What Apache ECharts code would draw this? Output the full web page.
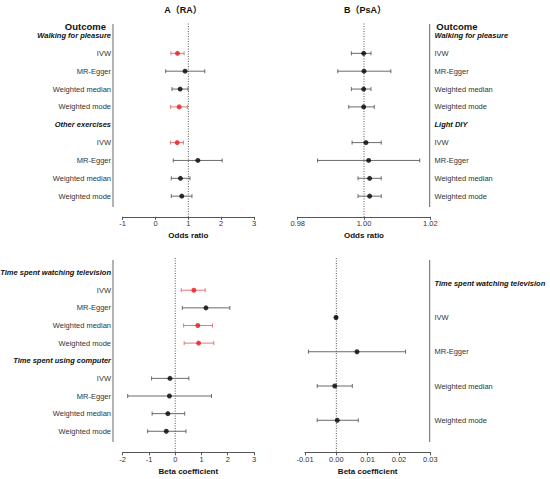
<!DOCTYPE html>
<html lang="en">
<head>
<meta charset="UTF-8">
<title>MR forest plots</title>
<script src="https://cdn.jsdelivr.net/npm/echarts@6/dist/echarts.min.js"></script>
<style>
  html, body { margin: 0; padding: 0; background: #fff; }
  #main { width: 550px; height: 479px; }
</style>
</head>
<body>
<div id="main"></div>
<script>
// MR methods, repeated under every exposure
var methods = ['IVW', 'MR-Egger', 'Weighted median', 'Weighted mode'];

// A (RA), odds ratios
var raHeaders = ['Walking for pleasure', 'Other exercises'];
var raOR   = [0.67, 0.90, 0.75, 0.72, 0.66, 1.29, 0.76, 0.80];
var raLow  = [0.47, 0.31, 0.50, 0.46, 0.45, 0.54, 0.48, 0.48];
var raHigh = [0.87, 1.50, 0.99, 0.97, 0.85, 2.03, 1.05, 1.11];
var raSig  = [1, 0, 0, 1, 1, 0, 0, 0];

// B (PsA), odds ratios
var psaHeaders = ['Walking for pleasure', 'Light DIY'];
var psaOR   = [0.9999, 1.0000, 0.9999, 0.9999, 1.0006, 1.0014, 1.0017, 1.0017];
var psaLow  = [0.9962, 0.9921, 0.9962, 0.9954, 0.9964, 0.9860, 0.9982, 0.9982];
var psaHigh = [1.0021, 1.0081, 1.0021, 1.0031, 1.0052, 1.0168, 1.0052, 1.0052];
var psaSig  = [0, 0, 0, 0, 0, 0, 0, 0];

// A (RA), beta coefficients
var raBetaHeaders = ['Time spent watching television', 'Time spent using computer'];
var raBeta     = [0.71, 1.17, 0.86, 0.89, -0.20, -0.22, -0.28, -0.34];
var raBetaLow  = [0.23, 0.27, 0.32, 0.34, -0.90, -1.81, -0.88, -1.05];
var raBetaHigh = [1.14, 2.08, 1.42, 1.47, 0.52, 1.38, 0.36, 0.41];
var raBetaSig  = [1, 0, 1, 1, 0, 0, 0, 0];

// B (PsA), beta coefficients
var psaBetaHeaders = ['Time spent watching television'];
var psaBeta     = [-0.0001, 0.0066, -0.0005, 0.0003];
var psaBetaLow  = [-0.0004, -0.0089, -0.0061, -0.0061];
var psaBetaHigh = [0.0003, 0.0221, 0.0051, 0.0070];
var psaBetaSig  = [0, 0, 0, 0];

// x axis ticks
var orTicksRA   = { min: -1, max: 3, interval: 1, dec: 0 };
var orTicksPsA  = { min: 0.98, max: 1.02, interval: 0.02, dec: 2 };
var betaTicksRA = { min: -2, max: 3, interval: 1, dec: 0 };
var betaTicksPsA = { min: -0.01, max: 0.03, interval: 0.01, dec: 2 };

var FONT = '"Liberation Sans", Arial, "Noto Sans CJK SC", sans-serif';
var RED = '#e31a1c', RED_BAR = '#e46a6a', BLACK = '#000', GREY_BAR = '#5a5a5a';

// panel layout (pixels)
var panels = [
  { grid: { left: 122.7, top: 23.5, width: 131.3, height: 193.3 }, firstRow: 35.5, step: 17.85,
    lineTop: 24, lineBottom: 207, outcomeY: 26, side: 'left', ticks: orTicksRA, ref: 1, name: 'Odds ratio',
    headers: raHeaders, est: raOR, lo: raLow, hi: raHigh, sig: raSig },
  { grid: { left: 297.7, top: 23.5, width: 132.6, height: 193.3 }, firstRow: 35.5, step: 17.85,
    lineTop: 24, lineBottom: 207, outcomeY: 26, side: 'right', ticks: orTicksPsA, ref: 1, name: 'Odds ratio',
    headers: psaHeaders, est: psaOR, lo: psaLow, hi: psaHigh, sig: psaSig },
  { grid: { left: 122.7, top: 258, width: 131.3, height: 194.3 }, firstRow: 272.6, step: 17.63,
    lineTop: 260, lineBottom: 442, side: 'left', ticks: betaTicksRA, ref: 0, name: 'Beta coefficient',
    headers: raBetaHeaders, est: raBeta, lo: raBetaLow, hi: raBetaHigh, sig: raBetaSig },
  { grid: { left: 305, top: 258, width: 125.3, height: 194.3 }, firstRow: 283.2, step: 34.27,
    lineTop: 260, lineBottom: 442, side: 'right', ticks: betaTicksPsA, ref: 0, name: 'Beta coefficient',
    headers: psaBetaHeaders, est: psaBeta, lo: psaBetaLow, hi: psaBetaHigh, sig: psaBetaSig }
];

function makeRows(headers) {
  var rows = [], r = 0;
  headers.forEach(function (h) {
    rows.push({ row: r++, text: h, kind: 'head' });
    methods.forEach(function (m) { rows.push({ row: r++, text: m, kind: 'method' }); });
  });
  return rows;
}

var option = {
  animation: false,
  grid: [], xAxis: [], yAxis: [], series: [],
  graphic: [
    { type: 'text', x: 183, y: 9.5, style: { text: 'A（RA）', align: 'center', verticalAlign: 'middle',
      fontSize: 9, fontWeight: 'bold', fontFamily: FONT, fill: '#111' } },
    { type: 'text', x: 365, y: 9.5, style: { text: 'B（PsA）', align: 'center', verticalAlign: 'middle',
      fontSize: 9, fontWeight: 'bold', fontFamily: FONT, fill: '#111' } }
  ]
};

panels.forEach(function (p, i) {
  var toRow = function (py) { return (py - p.firstRow) / p.step; };
  var rows = makeRows(p.headers);
  if (p.outcomeY) rows.push({ row: toRow(p.outcomeY), text: 'Outcome', kind: 'title' });
  var mRows = rows.filter(function (r) { return r.kind === 'method'; }).map(function (r) { return r.row; });
  var t = p.ticks;
  var yMin = toRow(p.grid.top), yMax = toRow(p.grid.top + p.grid.height);

  option.grid.push(p.grid);
  option.xAxis.push({
    type: 'value', gridIndex: i, position: 'bottom', min: t.min, max: t.max, interval: t.interval,
    axisLine: { onZero: false, lineStyle: { color: '#555', width: 1 } },
    axisTick: { length: 3, lineStyle: { color: '#555' } },
    splitLine: { show: false },
    axisLabel: { fontSize: 7.5, color: '#333', fontFamily: FONT, margin: 3,
      formatter: function (v) { return v.toFixed(t.dec); } },
    name: p.name, nameLocation: 'middle', nameGap: 15,
    nameTextStyle: { fontSize: 8, fontWeight: 'bold', color: '#111', fontFamily: FONT }
  });
  option.yAxis.push({
    type: 'value', gridIndex: i, inverse: true, show: false, min: yMin, max: yMax
  });

  // dotted reference line (null effect)
  option.series.push({
    type: 'custom', xAxisIndex: i, yAxisIndex: i, silent: true,
    data: [[p.ref, yMin, yMax]],
    renderItem: function (params, api) {
      var a = api.coord([api.value(0), api.value(1)]);
      var b = api.coord([api.value(0), api.value(2)]);
      return { type: 'line', shape: { x1: a[0], y1: a[1], x2: b[0], y2: b[1] },
        style: { stroke: '#555', lineWidth: 1, lineDash: [1, 1.5] } };
    }
  });

  // confidence interval bars
  option.series.push({
    type: 'custom', xAxisIndex: i, yAxisIndex: i, silent: true,
    data: p.est.map(function (v, k) { return [p.lo[k], p.hi[k], mRows[k], p.sig[k]]; }),
    encode: { x: [0, 1], y: 2 },
    renderItem: function (params, api) {
      var a = api.coord([api.value(0), api.value(2)]);
      var b = api.coord([api.value(1), api.value(2)]);
      var st = { stroke: api.value(3) ? RED_BAR : GREY_BAR, lineWidth: 0.9 };
      return { type: 'group', children: [
        { type: 'line', shape: { x1: a[0], y1: a[1], x2: b[0], y2: b[1] }, style: st },
        { type: 'line', shape: { x1: a[0], y1: a[1] - 2, x2: a[0], y2: a[1] + 2 }, style: st },
        { type: 'line', shape: { x1: b[0], y1: b[1] - 2, x2: b[0], y2: b[1] + 2 }, style: st }
      ] };
    }
  });

  // point estimates
  option.series.push({
    type: 'scatter', xAxisIndex: i, yAxisIndex: i, silent: true,
    symbolSize: 5,
    data: p.est.map(function (v, k) { return { value: [v, mRows[k]], itemStyle: { color: p.sig[k] ? RED : BLACK } }; })
  });

  // row labels
  option.series.push({
    type: 'custom', xAxisIndex: i, yAxisIndex: i, silent: true,
    data: rows.map(function (r) { return [p.side === 'left' ? t.min : t.max, r.row]; }),
    renderItem: function (params, api) {
      var r = rows[params.dataIndex];
      var c = api.coord([api.value(0), api.value(1)]);
      var left = p.side === 'left';
      var dx = left ? (r.kind === 'title' ? -16.7 : -11.7) : (r.kind === 'title' ? 6 : 4.2);
      var style = { text: r.text, align: left ? 'right' : 'left', verticalAlign: 'middle',
        fontFamily: FONT, fontSize: 7.5, fill: '#333' };
      if (r.kind === 'head') { style.fontWeight = 'bold'; style.fontStyle = 'italic'; style.fill = '#111'; }
      if (r.kind === 'title') { style.fontWeight = 'bold'; style.fontSize = 9.5; style.fill = '#111'; }
      return { type: 'text', x: c[0] + dx, y: c[1], style: style };
    }
  });

  // vertical outcome line
  option.series.push({
    type: 'custom', xAxisIndex: i, yAxisIndex: i, silent: true,
    data: [[p.side === 'left' ? t.min : t.max, toRow(p.lineTop), toRow(p.lineBottom)]],
    renderItem: function (params, api) {
      var a = api.coord([api.value(0), api.value(1)]);
      var b = api.coord([api.value(0), api.value(2)]);
      var dx = p.side === 'left' ? -9.7 : -0.6;
      return { type: 'line', shape: { x1: a[0] + dx, y1: a[1], x2: b[0] + dx, y2: b[1] },
        style: { stroke: '#666', lineWidth: 1 } };
    }
  });
});

var myChart = echarts.init(document.getElementById('main'), null, { renderer: 'svg' });
myChart.setOption(option);
</script>
</body>
</html>
